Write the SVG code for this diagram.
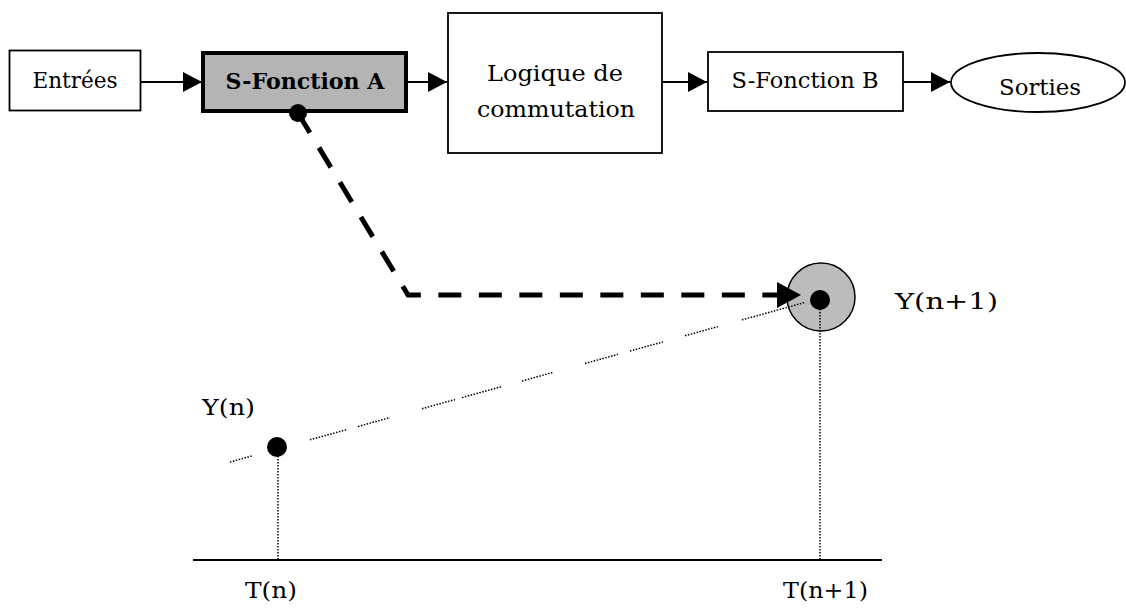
<svg xmlns="http://www.w3.org/2000/svg" width="1126" height="610" viewBox="0 0 1126 610">
<defs>
<style>
.box{fill:#fff;stroke:#000;stroke-width:1.8}
.t{font-family:"DejaVu Serif","Liberation Serif",serif;font-size:23px;fill:#000}
.tb{font-family:"DejaVu Serif","Liberation Serif",serif;font-size:22px;font-weight:bold;fill:#000}
.arr{stroke:#000;stroke-width:1.8;fill:none}
.dot{stroke:#000;stroke-width:1.5;stroke-dasharray:1.5 1.5;fill:none}
</style>
<marker id="ah" markerUnits="userSpaceOnUse" markerWidth="20" markerHeight="22" refX="19" refY="10" orient="auto">
<path d="M0,0 L19,10 L0,20 Z" fill="#000"/>
</marker>
<marker id="ahb" markerUnits="userSpaceOnUse" markerWidth="26" markerHeight="28" refX="24" refY="13" orient="auto">
<path d="M0,0 L24,13 L0,26 Z" fill="#000"/>
</marker>
</defs>
<rect width="1126" height="610" fill="#fff"/>

<g id="entrees">
<rect class="box" x="9.5" y="50.5" width="131" height="60"/>
<text class="t" x="75" y="88" text-anchor="middle" textLength="85" lengthAdjust="spacingAndGlyphs">Entrées</text>
</g>
<g id="sfonctionA">
<rect x="203" y="53" width="203" height="58" fill="#b4b4b4" stroke="#000" stroke-width="4"/>
<text class="tb" x="305" y="89" text-anchor="middle" textLength="159" lengthAdjust="spacingAndGlyphs">S-Fonction A</text>
</g>
<g id="logique">
<rect class="box" x="448" y="13" width="214" height="140"/>
<text class="t" x="555" y="81" text-anchor="middle" textLength="136" lengthAdjust="spacingAndGlyphs">Logique de</text>
<text class="t" x="556" y="117" text-anchor="middle" textLength="158" lengthAdjust="spacingAndGlyphs">commutation</text>
</g>
<g id="sfonctionB">
<rect class="box" x="708" y="52" width="195" height="59"/>
<text class="t" x="805" y="88" text-anchor="middle" textLength="147" lengthAdjust="spacingAndGlyphs">S-Fonction B</text>
</g>
<g id="sorties">
<ellipse class="box" cx="1038" cy="82.5" rx="87" ry="29.5"/>
<text class="t" x="1040" y="95" text-anchor="middle" textLength="82" lengthAdjust="spacingAndGlyphs">Sorties</text>
</g>

<g id="yn1">
<circle cx="821" cy="297" r="34" fill="#bcbcbc" stroke="#000" stroke-width="1.5"/>
<circle cx="820" cy="300" r="10" fill="#000"/>
<text class="t" x="895" y="309" textLength="103" lengthAdjust="spacingAndGlyphs">Y(n+1)</text>
</g>
<g id="yn">
<circle cx="277" cy="447" r="10" fill="#000"/>
<text class="t" x="202" y="415" textLength="53" lengthAdjust="spacingAndGlyphs">Y(n)</text>
</g>
<g id="axis">
<line x1="193" y1="560" x2="882" y2="560" stroke="#000" stroke-width="2"/>
<text class="t" x="245" y="598" textLength="52" lengthAdjust="spacingAndGlyphs">T(n)</text>
<text class="t" x="783" y="598" textLength="85" lengthAdjust="spacingAndGlyphs">T(n+1)</text>
</g>

<g id="connectors">
<line class="arr" x1="141" y1="82" x2="202" y2="82" marker-end="url(#ah)"/>
<line class="arr" x1="408" y1="82" x2="447" y2="82" marker-end="url(#ah)"/>
<line class="arr" x1="662" y1="82" x2="707" y2="82" marker-end="url(#ah)"/>
<line class="arr" x1="903" y1="82" x2="950" y2="82" marker-end="url(#ah)"/>
<circle cx="298" cy="113" r="9" fill="#000"/>
<path d="M298,113 L408,295 L801,295" fill="none" stroke="#000" stroke-width="5" stroke-dasharray="23 17.5" marker-end="url(#ahb)"/>
<line class="dot" x1="278" y1="447" x2="278" y2="560"/>
<line class="dot" x1="820" y1="300" x2="820" y2="560"/>
<g class="dot" stroke-dasharray="1.5 2.5">
<line x1="230" y1="462" x2="252" y2="455.9"/>
<line x1="310" y1="439.8" x2="347" y2="429.5"/>
<line x1="358" y1="426.5" x2="390" y2="417.6"/>
<line x1="422" y1="408.7" x2="455" y2="399.6"/>
<line x1="462" y1="397.6" x2="502" y2="386.5"/>
<line x1="522" y1="381" x2="553" y2="372.4"/>
<line x1="585" y1="363.5" x2="618" y2="354.3"/>
<line x1="630" y1="351" x2="663" y2="341.9"/>
<line x1="685" y1="335.7" x2="718" y2="326.6"/>
<line x1="742" y1="319.9" x2="805" y2="302.4"/>
</g>
</g>
</svg>
